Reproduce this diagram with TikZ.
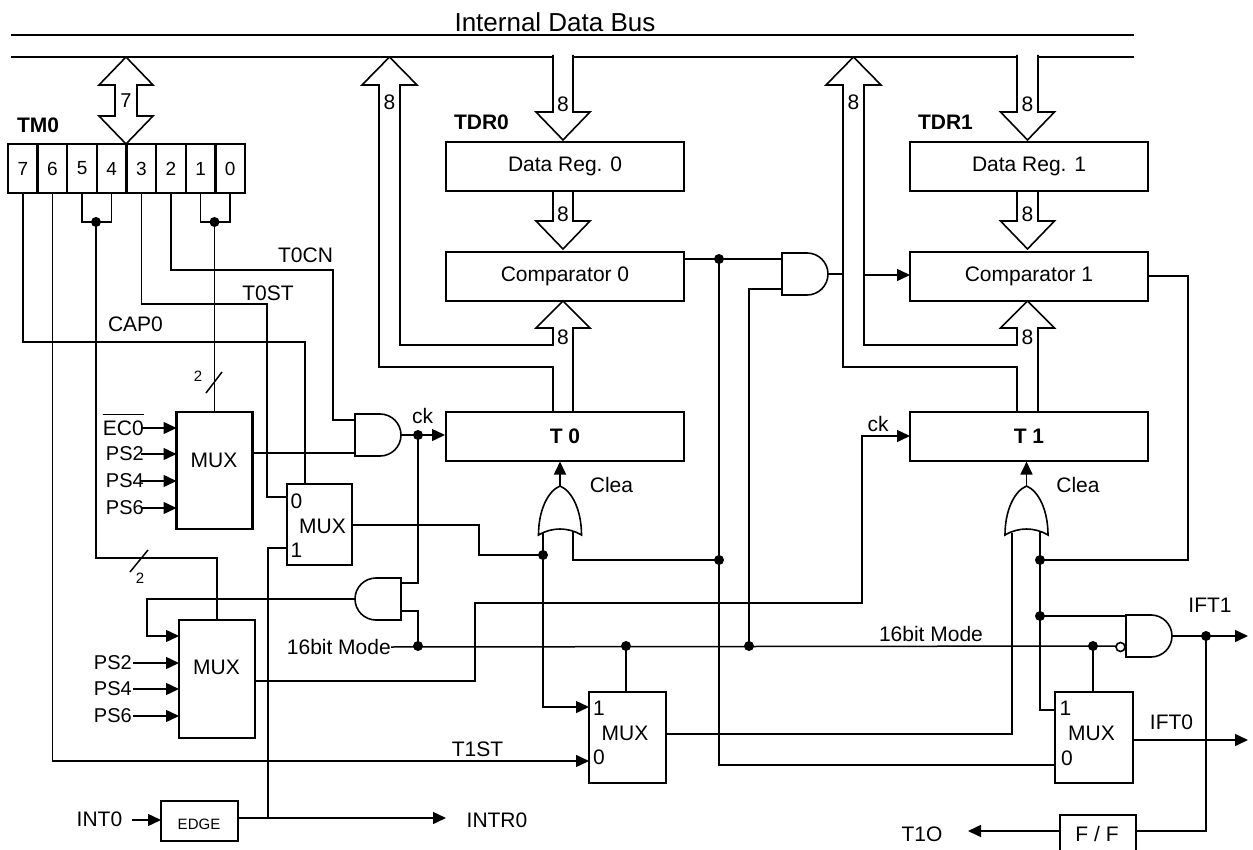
\documentclass[tikz,border=0pt]{standalone}
\usepackage{fontspec}
\setmainfont{Liberation Sans}
\usetikzlibrary{arrows.meta}
\begin{document}
\fontsize{21}{25}\selectfont
\begin{tikzpicture}[x=1pt,y=-1pt,
  wire/.style={line width=1.5pt},
  bx/.style={draw, line width=2.4pt, inner sep=0pt},
  gatel/.style={draw, line width=1.6pt},
  busl/.style={draw, line width=1.6pt, line join=miter},
  jdot/.style={circle, fill=black, inner sep=0pt, minimum size=10pt},
  arw/.style={-{Triangle[length=13pt,width=12pt]}},
  lbl/.style={inner sep=0pt},
  small/.style={inner sep=0pt, font=\fontsize{15}{18}\selectfont},
  andR/.pic={\draw[gatel] (0,-21) -- (25,-21) .. controls (36.6,-21) and (46,-11.6) .. (46,0) .. controls (46,11.6) and (36.6,21) .. (25,21) -- (0,21) -- cycle;},
  andL/.pic={\draw[gatel] (0,-21) -- (-25,-21) .. controls (-36.6,-21) and (-46,-11.6) .. (-46,0) .. controls (-46,11.6) and (-36.6,21) .. (-25,21) -- (0,21) -- cycle;},
  orU/.pic={\draw[gatel] (-21.5,0) .. controls (-21.5,-25) and (-12,-44) .. (0,-49) .. controls (12,-44) and (21.5,-25) .. (21.5,0) .. controls (8,-8) and (-8,-8) .. (-21.5,0) -- cycle;}
]
\useasboundingbox (0,0) rectangle (1253,850);

% ---------- internal data bus ----------
\node[lbl, font=\fontsize{26}{30}\selectfont] (busname) at (555,22) {Internal Data Bus};
\draw[busl] (11,35) -- (1134,35);
\draw[busl] (11,57) -- (553,57) (573,57) -- (1017,57) (1038,57) -- (1134,57);

% ---------- TM0 register ----------
\node[lbl, font=\bfseries] (tm0) at (38,125) {TM0};
\foreach \b [count=\i from 0] in {7,6,5,4,3,2,1,0}
  \node[bx, minimum width=29.625pt, minimum height=49pt, font=\fontsize{19}{22}\selectfont] (r\b) at ({8+29.625*(\i+0.5)},168.5) {\b};

% 7-bit double arrow
\draw[busl] (126,57) -- (153,85) -- (137,85) -- (137,116) -- (153,116) -- (126,144) -- (99,116) -- (115,116) -- (115,85) -- (99,85) -- cycle;
\node[lbl, font=\fontsize{20}{24}\selectfont] at (126,101) {7};

% ---------- TDR0 / comparator 0 / T0 ----------
\node[lbl, font=\bfseries] (tdr0) at (481.5,122) {TDR0};
\node[bx, minimum width=238pt, minimum height=49pt] (dr0) at (565,166.5) {Data Reg. 0};
\node[bx, minimum width=238pt, minimum height=49pt] (cmp0) at (565,276.5) {Comparator 0};
\node[bx, minimum width=238pt, minimum height=49pt, font=\bfseries] (t0) at (565,436.5) {T 0};

\draw[busl] (553,55) -- (553,112) -- (536,112) -- (563,140) -- (590,112) -- (573,112) -- (573,55);
\node[lbl] at (563,104) {8};
\draw[busl] (553,191) -- (553,221) -- (536,221) -- (563,249) -- (590,221) -- (573,221) -- (573,191);
\node[lbl] at (563,214) {8};
\draw[busl] (573,412) -- (573,328) -- (590,328) -- (563,301) -- (536,328) -- (553,328) -- (553,345) -- (400,345) -- (400,85) -- (417,85) -- (389.5,57) -- (362,85) -- (379,85) -- (379,367) -- (553,367) -- (553,412);
\node[lbl] at (563,337) {8};
\node[lbl] at (389.5,102) {8};

% ---------- TDR1 / comparator 1 / T1 ----------
\node[lbl, font=\bfseries] (tdr1) at (945.5,122) {TDR1};
\node[bx, minimum width=238pt, minimum height=49pt] (dr1) at (1029,166.5) {Data Reg. 1};
\node[bx, minimum width=238pt, minimum height=49pt] (cmp1) at (1029,276.5) {Comparator 1};
\node[bx, minimum width=238pt, minimum height=49pt, font=\bfseries] (t1) at (1029,436.5) {T 1};

\draw[busl] (1017,55) -- (1017,112) -- (1000.5,112) -- (1027.5,140) -- (1054.5,112) -- (1038,112) -- (1038,55);
\node[lbl] at (1027.5,104) {8};
\draw[busl] (1017,191) -- (1017,221) -- (1000.5,221) -- (1027.5,249) -- (1054.5,221) -- (1038,221) -- (1038,191);
\node[lbl] at (1027.5,214) {8};
\draw[busl] (1038,412) -- (1038,328) -- (1054.5,328) -- (1027.5,301) -- (1000.5,328) -- (1017,328) -- (1017,345) -- (864,345) -- (864,85) -- (881,85) -- (853.5,57) -- (826,85) -- (843,85) -- (843,367) -- (1017,367) -- (1017,412);
\node[lbl] at (1027.5,337) {8};
\node[lbl] at (853.5,102) {8};

% ---------- multiplexers and boxes ----------
\node[bx, minimum width=76pt, minimum height=117pt] (mux1) at (214.5,470.5) {};
\node[lbl] at (214,460) {MUX};
\node[bx, minimum width=65pt, minimum height=81pt] (mux2) at (319.5,524.5) {};
\node[lbl] at (322.5,526) {MUX};
\node[lbl] at (296.5,501) {0};
\node[lbl] at (296.5,550) {1};
\node[bx, minimum width=76pt, minimum height=118pt] (mux3) at (217,679) {};
\node[lbl] at (216.5,667.5) {MUX};
\node[bx, minimum width=77pt, minimum height=91pt] (mux4) at (627.5,737.5) {};
\node[lbl] at (625,733) {MUX};
\node[lbl] at (599,708) {1};
\node[lbl] at (599,757) {0};
\node[bx, minimum width=78pt, minimum height=91pt] (mux5) at (1094,737.5) {};
\node[lbl] at (1091.5,733) {MUX};
\node[lbl] at (1065.5,708) {1};
\node[lbl] at (1067,758) {0};
\node[bx, minimum width=77pt, minimum height=40pt] (edge) at (199.5,821) {};
\node[small] at (199,824) {EDGE};
\node[bx, minimum width=76pt, minimum height=46pt] (ff) at (1098,838) {};
\node[lbl] at (1097,834) {F / F};

% ---------- gates ----------
\pic at (355,435) {andR};     % ck gate T0
\pic at (401,599) {andL};     % 16bit ck gate
\pic at (782,274) {andR};     % compare gate
\pic at (1126,636) {andR};    % IFT1 gate
\pic at (560,535) {orU};      % clear T0
\pic at (1026.5,535) {orU};   % clear T1
\draw[gatel] (1120.5,647) circle (4.5pt);

% ---------- TM0 bit wiring ----------
\draw[wire] (r7.south) |- (305,342) -- (305,484);
\node[lbl] at (135.5,324.5) {CAP0};
\draw[wire,arw] (r6.south) |- (589,761);
\node[lbl] at (477.5,749) {T1ST};
\draw[wire] (r5.south) |- (96,222) -| (r4.south);
\node[jdot] (j54) at (96,222) {};
\draw[wire] (j54.center) -- (96,558) -| (mux3.north);
\draw[wire] (130,572) -- (148,550);
\node[small] at (140,578) {2};
\draw[wire] (r3.south) |- (267,304) |- (287,497);
\node[lbl] at (268,293) {T0ST};
\draw[wire] (r2.south) |- (333,270) |- (355,420);
\node[lbl] at (305.5,255.5) {T0CN};
\draw[wire] (r1.south) |- (214.5,222) -| (r0.south);
\node[jdot] (j10) at (214.5,222) {};
\draw[wire] (j10.center) -- (mux1.north);
\draw[wire] (206,393) -- (222,372);
\node[small] at (198,376) {2};

% ---------- mux1 inputs ----------
\node[lbl, anchor=east] (ec0) at (144,428) {EC0};
\draw[line width=1.3pt] ([yshift=21pt]ec0.base west) -- ([yshift=21pt]ec0.base east);
\draw[wire,arw] (141,428) -- (176.5,428);
\node[lbl, anchor=east, font=\fontsize{20}{24}\selectfont] (ps2a) at (144,454) {PS2};
\draw[wire,arw] (141,454) -- (176.5,454);
\node[lbl, anchor=east, font=\fontsize{20}{24}\selectfont] (ps4a) at (144,481) {PS4};
\draw[wire,arw] (141,481) -- (176.5,481);
\node[lbl, anchor=east, font=\fontsize{20}{24}\selectfont] (ps6a) at (144,508) {PS6};
\draw[wire,arw] (141,508) -- (176.5,508);
\draw[wire] (252.5,453) -- (355,453);

% ---------- T0 clock ----------
\draw[wire] (401,435) -- (418,435);
\node[jdot] (ck0) at (418,435) {};
\draw[wire,arw] (ck0.center) -- (445,435);
\node[lbl] at (422.5,416) {ck};
\draw[wire] (ck0.center) |- (401,583);
\draw[wire] (401,611) -| (418,646);
\draw[wire,arw] (355,599) -| (147,636) -- (179,636);

% ---------- 16bit mode ----------
\node[lbl, anchor=east] (m16) at (391,647) {16bit Mode};
\draw[wire] (m16.east) -- (1116,646);
\node[jdot] (d16a) at (418,646) {};
\node[jdot] (d16b) at (626,646) {};
\node[jdot] (d16c) at (749,646) {};
\node[jdot] (d16d) at (1093,646) {};
\draw[wire] (d16b.center) -- (626,692);
\draw[wire] (d16c.center) |- (782,289);
\draw[wire] (d16d.center) -- (1093,692);
\node[lbl] at (931,634) {16bit Mode};

% ---------- mux3 inputs / output ----------
\node[lbl, anchor=east, font=\fontsize{20}{24}\selectfont] (ps2b) at (132,663) {PS2};
\draw[wire,arw] (133,663) -- (179,663);
\node[lbl, anchor=east, font=\fontsize{20}{24}\selectfont] (ps4b) at (132,689) {PS4};
\draw[wire,arw] (133,689) -- (179,689);
\node[lbl, anchor=east, font=\fontsize{20}{24}\selectfont] (ps6b) at (132,716) {PS6};
\draw[wire,arw] (133,716) -- (179,716);
\draw[wire,arw] (255,681) -- (475,681) |- (862,603) |- (910,436);
\node[lbl] at (878,424) {ck};

% ---------- T0 clear ----------
\draw[wire] (352,525) -- (479,525) |- (543,555);
\node[jdot] (dor) at (543,555) {};
\draw[wire] (dor.center) -- (543,533);
\draw[wire,arw] (dor.center) |- (589,707);
\draw[wire] (573,531) |- (719,560);
\node[jdot] (dc0b) at (719,560) {};
\draw[wire,arw] (560,486) -- (560,461.5);
\node[lbl] at (611.5,485) {Clea};

% ---------- comparator 0 output ----------
\draw[wire] (cmp0.east |- 0,259) -- (782,259);
\node[jdot] (dc0) at (719,259) {};
\draw[wire] (dc0.center) |- (1055,765);
\draw[wire] (828,274) -- (843,274);
\draw[wire,arw] (864,275) -- (910,275);

% ---------- T1 clear ----------
\draw[wire] (1148,276) -| (1188,560) -- (1040,560);
\node[jdot] (dc1) at (1040,560) {};
\draw[wire] (1040,531) -- (1040,710) -- (1055,710);
\node[jdot] (dc1b) at (1040,616) {};
\draw[wire] (dc1b.center) -- (1126,616);
\draw[wire] (666,734) -| (1012,533);
\draw[wire,arw] (1026.5,486) -- (1026.5,461.5);
\node[lbl] at (1078,485) {Clea};

% ---------- outputs ----------
\draw[wire,arw] (1133,740) -- (1248,740);
\node[lbl] at (1171.5,722) {IFT0};
\draw[wire] (1172,636) -- (1206,636);
\node[jdot] (dift) at (1206,636) {};
\draw[wire,arw] (dift.center) -- (1248,636);
\node[lbl] at (1210,605.5) {IFT1};
\draw[wire] (dift.center) |- (1136,831);
\draw[wire,arw] (1060,831) -- (968,831);
\node[lbl] at (922,834) {T1O};

% ---------- EDGE ----------
\node[lbl] at (99.5,819) {INT0};
\draw[wire,arw] (132,820) -- (161,820);
\draw[wire,arw] (238,818) -- (446,818);
\node[lbl] at (497,820.5) {INTR0};
\draw[wire] (268,818) |- (287,548);
\end{tikzpicture}
\end{document}
